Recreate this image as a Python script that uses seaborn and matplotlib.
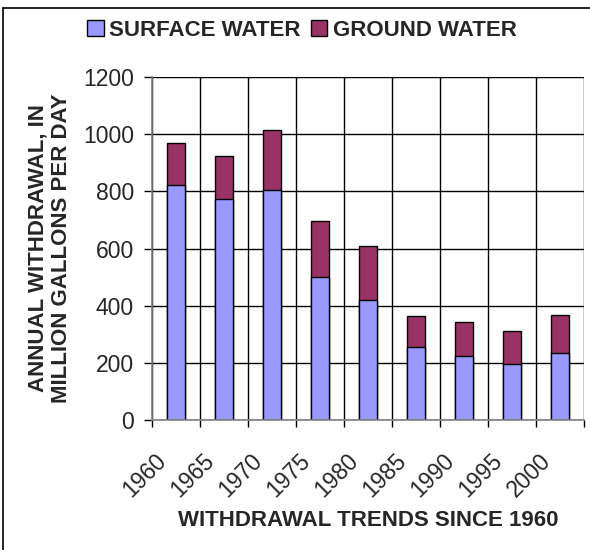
import matplotlib
matplotlib.use("Agg")
import matplotlib.pyplot as plt
from matplotlib.lines import Line2D
from matplotlib.patches import Patch
from matplotlib.transforms import ScaledTranslation
import seaborn as sns
import pandas as pd
import numpy as np

years = ["1960", "1965", "1970", "1975", "1980", "1985", "1990", "1995", "2000"]
surface_water = [822, 773, 806, 500, 419, 257, 224, 196, 236]
ground_water = [148, 152, 208, 197, 188, 106, 119, 114, 132]

SURFACE_COLOR = "#9999FF"
GROUND_COLOR = "#993366"

df = pd.DataFrame({"year": years, "surface": surface_water, "ground": ground_water})
df["total"] = df["surface"] + df["ground"]

sns.set_theme(style="white")
plt.rcParams["font.family"] = ["Liberation Sans", "DejaVu Sans"]

fig = plt.figure(figsize=(5.9, 5.5), dpi=100)
ax = fig.add_axes([152 / 590, 1 - 420 / 550, (584 - 152) / 590, (420 - 77) / 550])

# stacked bars: total (ground on top) first, then surface over it
sns.barplot(data=df, x="year", y="total", color=GROUND_COLOR, saturation=1,
            width=0.38, edgecolor="black", linewidth=1, ax=ax)
sns.barplot(data=df, x="year", y="surface", color=SURFACE_COLOR, saturation=1,
            width=0.38, edgecolor="black", linewidth=1, ax=ax)

ax.set_xlim(-0.5, len(years) - 0.5)
ax.set_ylim(0, 1200)
ax.set_yticks(range(0, 1201, 200))
ax.set_xticks(np.arange(-0.5, len(years), 1), minor=True)
ax.set_xlabel("")
ax.set_ylabel("")

ax.set_axisbelow(True)
ax.grid(True, axis="y", which="major", color="black", linewidth=1)
ax.grid(True, axis="x", which="minor", color="black", linewidth=1)
ax.grid(False, axis="x", which="major")

for side in ["top", "right"]:
    ax.spines[side].set_visible(False)
for side in ["left", "bottom"]:
    ax.spines[side].set_color("#808080")
    ax.spines[side].set_linewidth(1.2)

ax.tick_params(axis="y", which="major", length=6, width=1, color="black",
               direction="out", left=True, labelsize=16.5, pad=7)
ax.tick_params(axis="x", which="major", length=0, labelsize=16.5, pad=21)
ax.tick_params(axis="x", which="minor", length=5, width=1, color="black",
               direction="out", bottom=True)
offset = ScaledTranslation(-5 / 100, 0, fig.dpi_scale_trans)
for lab in ax.get_xticklabels():
    lab.set_rotation(45)
    lab.set_ha("right")
    lab.set_va("top")
    lab.set_transform(lab.get_transform() + offset)

fig.text(50 / 590, 1 - 248 / 550, "ANNUAL WITHDRAWAL, IN\nMILLION GALLONS PER DAY",
         rotation=90, ha="center", va="center", multialignment="center",
         fontsize=16, fontweight="bold", linespacing=1.15)
fig.text(368 / 590, 1 - 521 / 550, "WITHDRAWAL TRENDS SINCE 1960",
         ha="center", va="center", fontsize=16, fontweight="bold")

handles = [Patch(facecolor=SURFACE_COLOR, edgecolor="black", linewidth=1),
           Patch(facecolor=GROUND_COLOR, edgecolor="black", linewidth=1)]
leg = fig.legend(handles, ["SURFACE WATER", "GROUND WATER"], loc="center",
                 bbox_to_anchor=(302 / 590, 1 - 30 / 550), ncol=2, frameon=False,
                 handlelength=0.75, handleheight=0.75, handletextpad=0.25,
                 columnspacing=0.45, prop={"size": 16, "weight": "bold"})

# outer frame (left and top edges visible in the reference)
fig.add_artist(Line2D([3 / 590, 3 / 590], [0, 1 - 8 / 550], transform=fig.transFigure,
                      color="black", linewidth=1.2))
fig.add_artist(Line2D([3 / 590, 1], [1 - 8 / 550, 1 - 8 / 550], transform=fig.transFigure,
                      color="black", linewidth=1.2))

fig.savefig("out.png", dpi=100)
